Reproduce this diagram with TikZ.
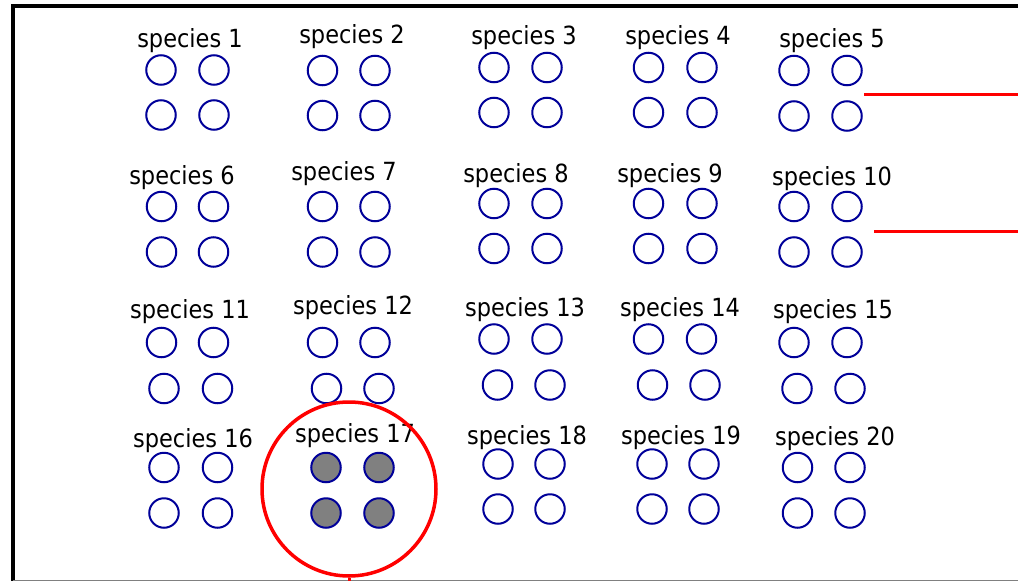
\documentclass[tikz,border=0pt]{standalone}
\usepackage{fontspec}
\setmainfont{DejaVu Sans Condensed}
\definecolor{cblue}{RGB}{0,0,153}
\definecolor{cred}{RGB}{255,0,0}
\definecolor{cgray}{RGB}{128,128,128}
\begin{document}
\begin{tikzpicture}[x=1pt,y=-1pt,
  lbl/.style={anchor=base,inner sep=0pt,font=\fontsize{25}{30}\selectfont},
  cell/.style={circle,draw=cblue,line width=2pt,minimum size=29.5pt,inner sep=0pt},
  filled/.style={cell,fill=cgray},
  redline/.style={draw=cred,line width=3pt},
  lens/.style={circle,draw=cred,line width=3.5pt,minimum size=174pt,inner sep=0pt}]
\useasboundingbox (0,0) rectangle (1018,581);
% frame
\draw[black,line width=4pt] (13,581) -- (13,6) -- (1018,6);
\draw[gray,line width=1pt] (13,580) -- (1018,580);
% species groups
\foreach \n/\lx/\ly/\ax/\bx/\ty/\cx/\dx/\by in {
 1/190/47/161/214/70/161/214/115,
 2/352/43/322.5/375/70.5/322.5/375/115.5,
 3/524/44/494/547/67.5/494/547/112.5,
 4/678/44/648.5/702/67.5/648.5/702/112.5,
 5/832/47/794/847/70.5/794/847/116,
 6/182/184/161.5/213.5/206.5/161.5/213.5/252,
 7/344/180/322.5/375/206.5/322.5/375/252,
 8/516/182/494/547/203.5/494/547/248.5,
 9/670/182/648.5/702/203.5/648.5/702/248.5,
 10/832/185/794/847/206.5/794/847/252,
 11/190/318/161.5/213.5/342.5/164/217.5/388.5,
 12/353/314/322.5/375/342.5/326.5/379/388.5,
 13/525/316/494/547/339/497.5/550/385,
 14/680/316/648.5/701.5/339/652.5/705/385,
 15/833/318/794/847/342.5/797/850/388.5,
 16/193/447/164/217.5/467.5/164/217.5/513,
 18/527/444/498/550/464/498/550/509,
 19/681/444/652/704/464/652/704/509,
 20/835/445/797.5/850/467.5/797.5/850/513}{
  \node[lbl] (l\n) at (\lx,\ly) {species \n};
  \node[cell] (c\n a) at (\ax,\ty) {};
  \node[cell] (c\n b) at (\bx,\ty) {};
  \node[cell] (c\n c) at (\cx,\by) {};
  \node[cell] (c\n d) at (\dx,\by) {};
}
% highlighted species 17
\node[lbl] (l17) at (355,442) {species 17};
\node[filled] (c17a) at (326,467.5) {};
\node[filled] (c17b) at (379,467.5) {};
\node[filled] (c17c) at (326,513) {};
\node[filled] (c17d) at (379,513) {};
\node[lens] (lens) at (349,489) {};
\coordinate (lensend) at (349,581);
\draw[redline] (lens.south) -- (lensend);
% red lines on the right
\coordinate (r1s) at (864,94);
\coordinate (r1e) at (1018,94);
\coordinate (r2s) at (874,231);
\coordinate (r2e) at (1018,231);
\draw[redline] (r1s) -- (r1e);
\draw[redline] (r2s) -- (r2e);
\end{tikzpicture}
\end{document}
